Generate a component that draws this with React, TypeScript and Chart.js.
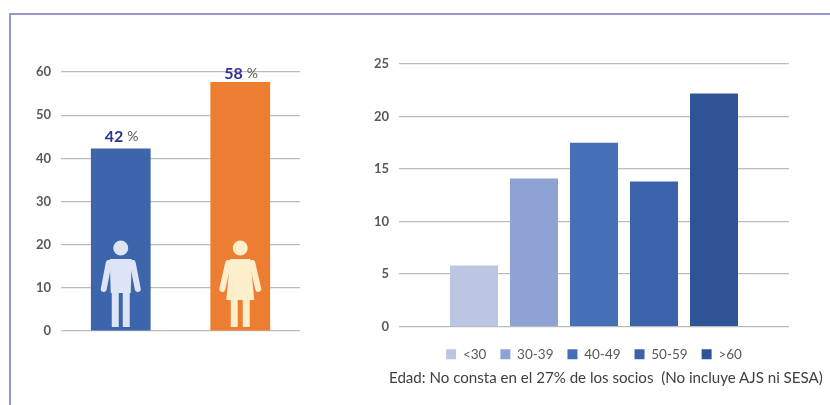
import React, { useEffect, useRef } from "react";
import { Chart, registerables } from "chart.js";

Chart.register(...registerables);

const genderCategories = ["Hombres", "Mujeres"];
const genderValues = [42.3, 57.7];
const genderLabels = ["42", "58"];
const genderColors = ["#3C65AB", "#ED7D31"];
const genderTicks = [0, 10, 20, 30, 40, 50, 60];

const ageGroups = ["<30", "30-39", "40-49", "50-59", ">60"];
const ageValues = [5.8, 14.1, 17.5, 13.8, 22.2];
const ageColors = ["#BBC6E3", "#8FA2D4", "#4670B5", "#3B63A9", "#2F5496"];

const footnote = "Edad: No consta en el 27% de los socios  (No incluye AJS ni SESA)";

const FONT = "Lato, 'Open Sans', sans-serif";
const GRID = "#BCBCBC";
const TEXT = "#595959";

function drawMale(ctx: CanvasRenderingContext2D, cx: number, base: number, fill: string) {
  ctx.fillStyle = fill;
  ctx.strokeStyle = fill;
  ctx.lineCap = "round";
  ctx.lineJoin = "round";
  ctx.beginPath();
  ctx.arc(cx, base - 83, 7.5, 0, Math.PI * 2);
  ctx.fill();
  ctx.beginPath();
  ctx.moveTo(cx - 11, base - 72);
  ctx.lineTo(cx + 11, base - 72);
  ctx.lineTo(cx + 10, base - 38);
  ctx.lineTo(cx - 10, base - 38);
  ctx.closePath();
  ctx.fill();
  ctx.lineWidth = 6;
  for (const s of [-1, 1]) {
    ctx.beginPath();
    ctx.moveTo(cx + s * 12, base - 68);
    ctx.lineTo(cx + s * 17, base - 42);
    ctx.stroke();
  }
  ctx.lineWidth = 7;
  ctx.lineCap = "butt";
  for (const s of [-1, 1]) {
    ctx.beginPath();
    ctx.moveTo(cx + s * 5.5, base - 40);
    ctx.lineTo(cx + s * 5.5, base - 4);
    ctx.stroke();
  }
}

function drawFemale(ctx: CanvasRenderingContext2D, cx: number, base: number, fill: string) {
  ctx.fillStyle = fill;
  ctx.strokeStyle = fill;
  ctx.lineCap = "round";
  ctx.lineJoin = "round";
  ctx.beginPath();
  ctx.arc(cx, base - 83, 7.5, 0, Math.PI * 2);
  ctx.fill();
  ctx.beginPath();
  ctx.moveTo(cx - 10, base - 72);
  ctx.lineTo(cx + 10, base - 72);
  ctx.lineTo(cx + 14, base - 31);
  ctx.lineTo(cx - 14, base - 31);
  ctx.closePath();
  ctx.fill();
  ctx.lineWidth = 6;
  for (const s of [-1, 1]) {
    ctx.beginPath();
    ctx.moveTo(cx + s * 12, base - 68);
    ctx.lineTo(cx + s * 18, base - 42);
    ctx.stroke();
  }
  ctx.lineWidth = 7;
  ctx.lineCap = "butt";
  for (const s of [-1, 1]) {
    ctx.beginPath();
    ctx.moveTo(cx + s * 6, base - 32);
    ctx.lineTo(cx + s * 6, base - 4);
    ctx.stroke();
  }
}

const labelGaps = [6, 3];

const genderDecor = {
  id: "genderDecor",
  afterDatasetsDraw(chart: any) {
    const { ctx } = chart;
    const bars = chart.getDatasetMeta(0).data;
    ctx.save();
    bars.forEach((bar: any, i: number) => {
      const y = bar.y - labelGaps[i];
      ctx.textBaseline = "alphabetic";
      ctx.textAlign = "left";
      ctx.font = `bold 16px ${FONT}`;
      ctx.fillStyle = "#2E3192";
      const x0 = bar.x - 16;
      ctx.fillText(genderLabels[i], x0, y);
      const w = ctx.measureText(genderLabels[i]).width;
      ctx.font = `14px ${FONT}`;
      ctx.fillStyle = TEXT;
      ctx.fillText("%", x0 + w + 4, y - 1);
    });
    const base = chart.scales.y.getPixelForValue(0);
    drawMale(ctx, bars[0].x, base, "#DDE4F3");
    drawFemale(ctx, bars[1].x, base, "#FDEFCB");
    ctx.restore();
  },
};

// Centres the legend under the plot area rather than under the whole canvas.
const legendUnderPlot = {
  id: "legendUnderPlot",
  afterLayout(chart: any) {
    const legend = chart.legend;
    const area = chart.chartArea;
    const shift = (area.left + area.right) / 2 - (legend.left + legend.right) / 2;
    legend.left += shift;
    legend.right += shift;
  },
};

function axisOptions(max: number, step: number, width: number) {
  return {
    min: 0,
    max,
    afterFit: (s: any) => {
      s.width = width;
    },
    ticks: {
      stepSize: step,
      padding: 10,
      color: TEXT,
      font: { family: FONT, size: 13, weight: "bold" as const },
    },
    grid: { color: GRID, lineWidth: 1.2, drawTicks: false },
    border: { display: false },
  };
}

export default function App() {
  const leftRef = useRef<HTMLCanvasElement>(null);
  const rightRef = useRef<HTMLCanvasElement>(null);

  useEffect(() => {
    const left = new Chart(leftRef.current!, {
      type: "bar",
      data: {
        labels: genderCategories,
        datasets: [
          {
            data: genderValues,
            backgroundColor: genderColors,
            barPercentage: 0.5,
            categoryPercentage: 1,
          },
        ],
      },
      options: {
        animation: false,
        responsive: false,
        layout: { padding: { left: 0, right: 20, top: 72, bottom: 74 } },
        plugins: { legend: { display: false }, tooltip: { enabled: false } },
        scales: {
          x: { display: false },
          y: { ...axisOptions(60, 10, 61), afterBuildTicks: (s: any) => { s.ticks = genderTicks.map((value) => ({ value })); } },
        },
      },
      plugins: [genderDecor],
    } as any);

    const right = new Chart(rightRef.current!, {
      type: "bar",
      data: {
        labels: [""],
        datasets: ageGroups.map((label, i) => ({
          label,
          data: [ageValues[i]],
          backgroundColor: ageColors[i],
          barPercentage: 0.8,
          categoryPercentage: 300 / 390,
        })),
      },
      options: {
        animation: false,
        responsive: false,
        layout: { padding: { left: 0, right: 41, top: 64, bottom: 34 } },
        plugins: {
          tooltip: { enabled: false },
          legend: {
            position: "bottom",
            labels: {
              boxWidth: 10,
              boxHeight: 10,
              padding: 14,
              color: TEXT,
              font: { family: FONT, size: 13.5 },
            },
          },
        },
        scales: {
          x: {
            ticks: { display: false },
            grid: { display: false },
            border: { display: false },
            afterFit: (s: any) => {
              s.height = 7;
            },
          },
          y: axisOptions(25, 5, 79),
        },
      },
      plugins: [legendUnderPlot],
    } as any);

    return () => {
      left.destroy();
      right.destroy();
    };
  }, []);

  return (
    <div style={{ position: "absolute", left: 0, top: 0, width: 830, height: 405, overflow: "hidden", background: "#fff" }}>
      <div
        style={{
          position: "absolute",
          left: 9,
          top: 13,
          width: 825,
          height: 400,
          borderLeft: "2px solid #8F96D0",
          borderTop: "2px solid #8F96D0",
        }}
      />
      <canvas ref={leftRef} width={320} height={405} style={{ position: "absolute", left: 0, top: 0 }} />
      <canvas ref={rightRef} width={510} height={405} style={{ position: "absolute", left: 320, top: 0 }} />
      <div
        style={{
          position: "absolute",
          left: 389,
          top: 368,
          whiteSpace: "pre",
          font: `15.1px ${FONT}`,
          color: "#404040",
        }}
      >
        {footnote}
      </div>
    </div>
  );
}
